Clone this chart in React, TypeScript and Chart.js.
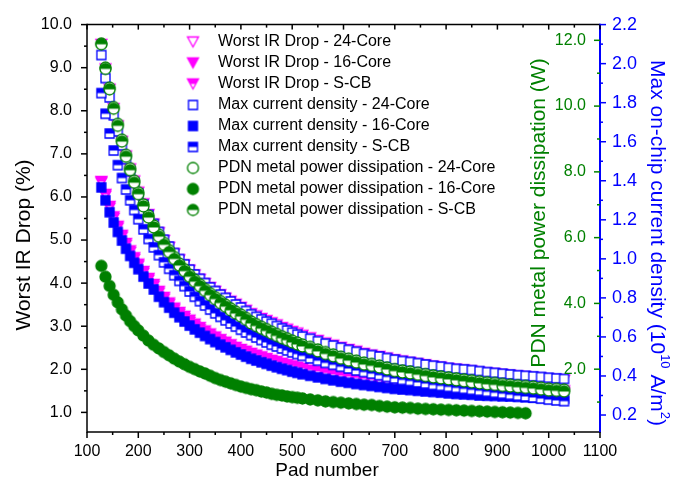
import React, { useEffect, useRef } from 'react';
import { Chart, registerables } from 'chart.js';

Chart.register(...registerables);

// Pad numbers (x values shared by all series)
const PAD = [128,136,144,152,160,168,176,184,192,200,
  210,220,230,240,250,260,270,280,
  290,300,310,320,330,340,350,360,370,380,390,400,410,420,430,440,450,460,470,480,490,500,510,
  520,535,550,565,580,595,610,625,640,655,670,685,700,715,730,745,760,775,790,805,820,835,850,865,880,895,910,925,940,955,970,985,1000,1015,1030];

// Worst IR drop (%)
const IR_24 = [9.54,8.97,8.50,8.05,7.65,7.29,6.95,6.65,6.37,6.11,
  5.84,5.59,5.37,5.17,4.99,4.83,4.68,4.54,
  4.42,4.30,4.19,4.09,3.99,3.90,3.81,3.73,3.65,3.58,3.51,3.44,3.37,3.29,3.24,3.18,3.13,3.08,3.03,2.97,2.93,2.88,2.84,
  2.79,2.73,2.67,2.61,2.56,2.51,2.46,2.42,2.37,2.33,2.30,2.26,2.22,2.19,2.16,2.13,2.10,2.07,2.05,2.02,2.00,1.98,1.96,1.93,1.91,1.90,1.88,1.86,1.84,1.83,1.81,1.79,1.77,1.76,1.75];
const IR_16 = [6.33,6.02,5.74,5.50,5.28,5.07,4.88,4.71,4.55,4.40,
  4.23,4.07,3.93,3.77,3.63,3.50,3.38,3.28,
  3.18,3.09,3.00,2.92,2.84,2.77,2.70,2.64,2.58,2.52,2.46,2.41,2.37,2.32,2.28,2.24,2.20,2.16,2.13,2.09,2.06,2.03,2.00,
  1.97,1.93,1.90,1.86,1.83,1.80,1.78,1.75,1.73,1.71,1.69,1.66,1.65,1.64,1.62,1.60,1.59,1.58,1.56,1.55,1.54,1.53,1.52,1.51,1.50,1.49,1.48,1.48,1.48,1.47,1.47,1.46,1.46,1.45,1.45];
const IR_SCB = [6.36,6.06,5.78,5.54,5.32,5.11,4.92,4.75,4.59,4.44,
  4.27,4.11,3.97,3.81,3.67,3.54,3.42,3.32,
  3.23,3.14,3.05,2.97,2.89,2.82,2.75,2.69,2.63,2.57,2.51,2.46,2.42,2.37,2.33,2.29,2.25,2.21,2.18,2.14,2.11,2.08,2.05,
  2.02,1.98,1.95,1.91,1.88,1.85,1.83,1.80,1.78,1.76,1.74,1.71,1.70,1.69,1.67,1.65,1.64,1.63,1.61,1.60,1.59,1.58,1.57,1.56,1.55,1.54,1.53,1.53,1.53,1.52,1.52,1.51,1.51,1.50,1.50];

// Max on-chip current density (10^10 A/m^2)
const J_24 = [2.044,1.926,1.827,1.735,1.653,1.581,1.511,1.449,1.390,1.335,
  1.278,1.225,1.179,1.138,1.098,1.063,1.030,0.999,
  0.972,0.945,0.920,0.898,0.876,0.854,0.835,0.817,0.800,0.782,0.766,0.751,0.733,0.716,0.703,0.690,0.679,0.668,0.656,0.644,0.633,0.622,0.612,
  0.602,0.591,0.578,0.566,0.556,0.545,0.534,0.524,0.514,0.507,0.500,0.492,0.484,0.477,0.472,0.466,0.459,0.453,0.448,0.442,0.437,0.434,0.430,0.425,0.420,0.416,0.412,0.408,0.404,0.401,0.398,0.395,0.391,0.388,0.385];
const J_16 = [1.366,1.300,1.239,1.186,1.138,1.094,1.052,1.015,0.980,0.947,
  0.909,0.874,0.843,0.806,0.778,0.750,0.724,0.701,
  0.679,0.658,0.639,0.622,0.605,0.589,0.574,0.560,0.547,0.534,0.521,0.510,0.499,0.488,0.479,0.470,0.462,0.453,0.445,0.437,0.430,0.422,0.416,
  0.409,0.401,0.393,0.385,0.378,0.371,0.365,0.359,0.354,0.349,0.344,0.339,0.334,0.331,0.328,0.324,0.321,0.318,0.315,0.311,0.308,0.306,0.304,0.300,0.299,0.298,0.296,0.295,0.293,0.291,0.289,0.288,0.286,0.285,0.284];
const J_SCB = [1.849,1.743,1.642,1.555,1.480,1.414,1.355,1.300,1.250,1.203,
  1.151,1.102,1.059,1.019,0.982,0.949,0.916,0.887,
  0.860,0.833,0.806,0.783,0.761,0.740,0.721,0.703,0.685,0.669,0.653,0.637,0.623,0.609,0.597,0.584,0.572,0.560,0.551,0.541,0.531,0.521,0.512,
  0.503,0.490,0.478,0.467,0.457,0.447,0.438,0.428,0.420,0.412,0.404,0.395,0.387,0.380,0.374,0.367,0.361,0.354,0.349,0.344,0.339,0.334,0.329,0.324,0.319,0.314,0.309,0.304,0.299,0.295,0.290,0.284,0.279,0.275,0.271];

// PDN metal power dissipation (W)
const P_24 = [11.90,11.17,10.56,9.97,9.46,8.98,8.52,8.11,7.73,7.38,
  7.01,6.67,6.37,6.09,5.84,5.62,5.41,5.21,
  5.04,4.87,4.72,4.58,4.44,4.31,4.19,4.07,3.96,3.85,3.75,3.66,3.56,3.45,3.37,3.29,3.22,3.14,3.07,3.00,2.94,2.87,2.81,
  2.75,2.68,2.60,2.52,2.45,2.38,2.32,2.26,2.20,2.16,2.11,2.05,2.00,1.96,1.93,1.89,1.85,1.81,1.78,1.75,1.72,1.69,1.66,1.63,1.60,1.58,1.55,1.53,1.51,1.49,1.47,1.44,1.41,1.40,1.38];
const P_16 = [5.14,4.81,4.53,4.26,4.03,3.82,3.63,3.46,3.31,3.18,
  3.02,2.87,2.74,2.63,2.52,2.42,2.32,2.23,
  2.15,2.07,2.00,1.93,1.87,1.80,1.73,1.67,1.62,1.57,1.52,1.47,1.43,1.39,1.36,1.32,1.29,1.25,1.22,1.20,1.17,1.15,1.13,
  1.11,1.08,1.05,1.02,1.00,0.98,0.96,0.94,0.92,0.91,0.88,0.86,0.84,0.83,0.82,0.80,0.79,0.78,0.77,0.76,0.75,0.74,0.73,0.72,0.71,0.70,0.69,0.68,0.67,0.66];
const P_SCB = [11.88,11.13,10.51,9.92,9.40,8.92,8.46,8.05,7.67,7.32,
  6.95,6.61,6.31,6.03,5.78,5.56,5.35,5.15,
  4.98,4.81,4.66,4.52,4.38,4.25,4.13,4.01,3.90,3.79,3.69,3.60,3.50,3.39,3.31,3.23,3.16,3.08,3.01,2.94,2.88,2.81,2.75,
  2.69,2.62,2.54,2.46,2.39,2.32,2.26,2.20,2.14,2.10,2.05,1.99,1.94,1.90,1.87,1.83,1.79,1.75,1.72,1.69,1.66,1.63,1.60,1.57,1.54,1.52,1.49,1.47,1.45,1.43,1.41,1.38,1.35,1.34,1.32];

// Tick values
const X_TICKS = [100,200,300,400,500,600,700,800,900,1000,1100];
const X_MINOR = [150,250,350,450,550,650,750,850,950,1050];
const IR_TICKS = [1,2,3,4,5,6,7,8,9,10];
const IR_MINOR = [1.5,2.5,3.5,4.5,5.5,6.5,7.5,8.5,9.5];
const J_TICKS = [0.2,0.4,0.6,0.8,1.0,1.2,1.4,1.6,1.8,2.0,2.2];
const J_MINOR = [0.3,0.5,0.7,0.9,1.1,1.3,1.5,1.7,1.9,2.1];
const P_TICKS = [2,4,6,8,10,12];
const P_MINOR = [1,3,5,7,9,11];

const LABELS = [
  'Worst IR Drop - 24-Core',
  'Worst IR Drop - 16-Core',
  'Worst IR Drop - S-CB',
  'Max current density - 24-Core',
  'Max current density - 16-Core',
  'Max current density - S-CB',
  'PDN metal power dissipation - 24-Core',
  'PDN metal power dissipation - 16-Core',
  'PDN metal power dissipation - S-CB',
];

const MAG = '#FF00FF';
const BLUE = '#0000FF';
const GREEN = '#008000';
const BLACK = '#000000';
const FONT = "'Liberation Sans', Arial, Helvetica, sans-serif";

type Shape = 'tri' | 'sq' | 'circ';
type Fill = 'open' | 'full' | 'half';

function makeMarker(shape: Shape, color: string, fill: Fill): HTMLCanvasElement {
  const s = shape === 'sq' ? 9 : 11;
  const W = s + 4;
  const c = document.createElement('canvas');
  c.width = W;
  c.height = W;
  const g = c.getContext('2d')!;
  const o = (W - s) / 2;
  const path = () => {
    g.beginPath();
    if (shape === 'tri') {
      g.moveTo(o, o + 0.5);
      g.lineTo(o + s, o + 0.5);
      g.lineTo(o + s / 2, o + s - 0.5);
      g.closePath();
    } else if (shape === 'sq') {
      g.rect(o, o, s, s);
    } else {
      g.arc(W / 2, W / 2, s / 2, 0, Math.PI * 2);
    }
  };
  g.lineWidth = 1.3;
  g.strokeStyle = color;
  path();
  g.fillStyle = fill === 'full' ? color : '#ffffff';
  g.fill();
  if (fill === 'half') {
    g.save();
    path();
    g.clip();
    g.fillStyle = color;
    g.fillRect(0, 0, W, W / 2);
    g.restore();
  }
  path();
  g.stroke();
  return c;
}

function drawText(ctx: CanvasRenderingContext2D, parts: { t: string; sup?: boolean }[], cx: number, cy: number, rot: number, size: number, color: string) {
  ctx.save();
  ctx.translate(cx, cy);
  ctx.rotate(rot);
  ctx.fillStyle = color;
  ctx.textBaseline = 'middle';
  ctx.textAlign = 'left';
  const supSize = Math.round(size * 0.62);
  let total = 0;
  const widths = parts.map(p => {
    ctx.font = `${p.sup ? supSize : size}px ${FONT}`;
    const w = ctx.measureText(p.t).width;
    total += w;
    return w;
  });
  let x = -total / 2;
  parts.forEach((p, i) => {
    ctx.font = `${p.sup ? supSize : size}px ${FONT}`;
    ctx.fillText(p.t, x, p.sup ? -size * 0.35 : 0);
    x += widths[i];
  });
  ctx.restore();
}

export default function App() {
  const ref = useRef<HTMLCanvasElement>(null);

  useEffect(() => {
    document.body.style.margin = '0';
    const canvas = ref.current!;

    const styles: { shape: Shape; color: string; fill: Fill; axis: string; data: number[] }[] = [
      { shape: 'tri', color: MAG, fill: 'open', axis: 'y', data: IR_24 },
      { shape: 'tri', color: MAG, fill: 'full', axis: 'y', data: IR_16 },
      { shape: 'tri', color: MAG, fill: 'half', axis: 'y', data: IR_SCB },
      { shape: 'sq', color: BLUE, fill: 'open', axis: 'yJ', data: J_24 },
      { shape: 'sq', color: BLUE, fill: 'full', axis: 'yJ', data: J_16 },
      { shape: 'sq', color: BLUE, fill: 'half', axis: 'yJ', data: J_SCB },
      { shape: 'circ', color: GREEN, fill: 'open', axis: 'yP', data: P_24 },
      { shape: 'circ', color: GREEN, fill: 'full', axis: 'yP', data: P_16 },
      { shape: 'circ', color: GREEN, fill: 'half', axis: 'yP', data: P_SCB },
    ];
    const markers = styles.map(s => makeMarker(s.shape, s.color, s.fill));

    const datasets = styles.map((s, i) => ({
      label: LABELS[i],
      data: s.data.map((v, k) => ({ x: PAD[k], y: v })),
      yAxisID: s.axis,
      pointStyle: markers[i] as any,
      pointRadius: 5,
      pointHoverRadius: 5,
      showLine: false,
      order: 100 - i,
    }));

    const decor = {
      id: 'decor',
      afterDraw(chart: any) {
        const { ctx, chartArea: a, scales } = chart;
        const sx = scales.x, sl = scales.y, sj = scales.yJ, sp = scales.yP;
        ctx.save();
        const seg = (x1: number, y1: number, x2: number, y2: number, color: string, w = 1.5) => {
          ctx.beginPath();
          ctx.strokeStyle = color;
          ctx.lineWidth = w;
          ctx.moveTo(x1, y1);
          ctx.lineTo(x2, y2);
          ctx.stroke();
        };
        // frame
        seg(a.left, a.top, a.right, a.top, BLACK);
        seg(a.left, a.bottom, a.right, a.bottom, BLACK);
        seg(a.left, a.top - 0.75, a.left, a.bottom + 0.75, BLACK);
        seg(a.right, a.top - 0.75, a.right, a.bottom + 0.75, BLUE, 2);
        // x ticks
        X_TICKS.forEach(v => { const p = sx.getPixelForValue(v); seg(p, a.bottom, p, a.bottom + 6, BLACK); seg(p, a.top, p, a.top + 5, BLACK); });
        X_MINOR.forEach(v => { const p = sx.getPixelForValue(v); seg(p, a.bottom, p, a.bottom + 3, BLACK); seg(p, a.top, p, a.top + 3, BLACK); });
        // left ticks
        IR_TICKS.forEach(v => { const p = sl.getPixelForValue(v); seg(a.left, p, a.left - 6, p, BLACK); });
        IR_MINOR.forEach(v => { const p = sl.getPixelForValue(v); seg(a.left, p, a.left - 3, p, BLACK); });
        // blue ticks (outward)
        J_TICKS.forEach(v => { const p = sj.getPixelForValue(v); seg(a.right, p, a.right + 6, p, BLUE); });
        J_MINOR.forEach(v => { const p = sj.getPixelForValue(v); seg(a.right, p, a.right + 3, p, BLUE); });
        // green ticks (inward) and labels
        P_TICKS.forEach(v => { const p = sp.getPixelForValue(v); seg(a.right, p, a.right - 6, p, GREEN); });
        P_MINOR.forEach(v => { const p = sp.getPixelForValue(v); seg(a.right, p, a.right - 3, p, GREEN); });
        ctx.font = `16px ${FONT}`;
        ctx.fillStyle = GREEN;
        ctx.textAlign = 'right';
        ctx.textBaseline = 'middle';
        P_TICKS.forEach(v => { const p = sp.getPixelForValue(v); ctx.fillText(v.toFixed(1), a.right - 14, p); });

        // axis titles
        drawText(ctx, [{ t: 'Pad number' }], 327, 471, 0, 19, BLACK);
        drawText(ctx, [{ t: 'Worst IR Drop (%)' }], 24, 245, -Math.PI / 2, 21, BLACK);
        drawText(ctx, [{ t: 'PDN metal power dissipation (W)' }], 539, 213, -Math.PI / 2, 21, GREEN);
        drawText(ctx, [{ t: 'Max on-chip current density (10' }, { t: '10', sup: true }, { t: ' A/m' }, { t: '2', sup: true }, { t: ')' }], 657, 243, Math.PI / 2, 21, BLUE);

        // legend
        ctx.font = `16px ${FONT}`;
        ctx.fillStyle = BLACK;
        ctx.textBaseline = 'middle';
        ctx.textAlign = 'left';
        LABELS.forEach((lab, i) => {
          const y = 42 + i * 21;
          const m = markers[i];
          ctx.drawImage(m, 193 - m.width / 2, y - m.height / 2);
          ctx.fillText(lab, 218, y);
        });
        ctx.restore();
      },
    };

    const chart = new Chart(canvas, {
      type: 'scatter',
      data: { datasets: datasets as any },
      options: {
        animation: false,
        responsive: false,
        events: [],
        layout: { padding: { top: 17, left: 0, right: 0, bottom: 0 } },
        plugins: { legend: { display: false }, tooltip: { enabled: false } },
        scales: {
          x: {
            type: 'linear',
            position: 'bottom',
            min: 100,
            max: 1100,
            afterBuildTicks: (s: any) => { s.ticks = X_TICKS.map(v => ({ value: v })); },
            afterFit: (s: any) => { s.height = 59; },
            ticks: { autoSkip: false, maxRotation: 0, padding: 10, color: BLACK, font: { family: FONT, size: 16 }, callback: (v: any) => String(v) },
            grid: { display: false, drawTicks: false },
            border: { display: false },
          },
          y: {
            type: 'linear',
            position: 'left',
            min: 0.545,
            max: 10,
            afterBuildTicks: (s: any) => { s.ticks = IR_TICKS.map(v => ({ value: v })); },
            afterFit: (s: any) => { s.width = 87; },
            ticks: { autoSkip: false, padding: 15, color: BLACK, font: { family: FONT, size: 16 }, callback: (v: any) => Number(v).toFixed(1) },
            grid: { display: false, drawTicks: false },
            border: { display: false },
          },
          yP: {
            type: 'linear',
            position: 'right',
            weight: 0,
            min: 0.09,
            max: 12.478,
            afterBuildTicks: (s: any) => { s.ticks = P_TICKS.map(v => ({ value: v })); },
            afterFit: (s: any) => { s.width = 0; },
            ticks: { display: false },
            grid: { display: false, drawTicks: false },
            border: { display: false },
          },
          yJ: {
            type: 'linear',
            position: 'right',
            weight: 1,
            min: 0.113,
            max: 2.2,
            afterBuildTicks: (s: any) => { s.ticks = J_TICKS.map(v => ({ value: v })); },
            afterFit: (s: any) => { s.width = 85; },
            ticks: { autoSkip: false, padding: 12, color: BLUE, font: { family: FONT, size: 18 }, callback: (v: any) => Number(v).toFixed(1) },
            grid: { display: false, drawTicks: false },
            border: { display: false },
          },
        },
      } as any,
      plugins: [decor],
    });

    return () => chart.destroy();
  }, []);

  return <canvas ref={ref} width={685} height={491} style={{ display: 'block', width: 685, height: 491 }} />;
}
